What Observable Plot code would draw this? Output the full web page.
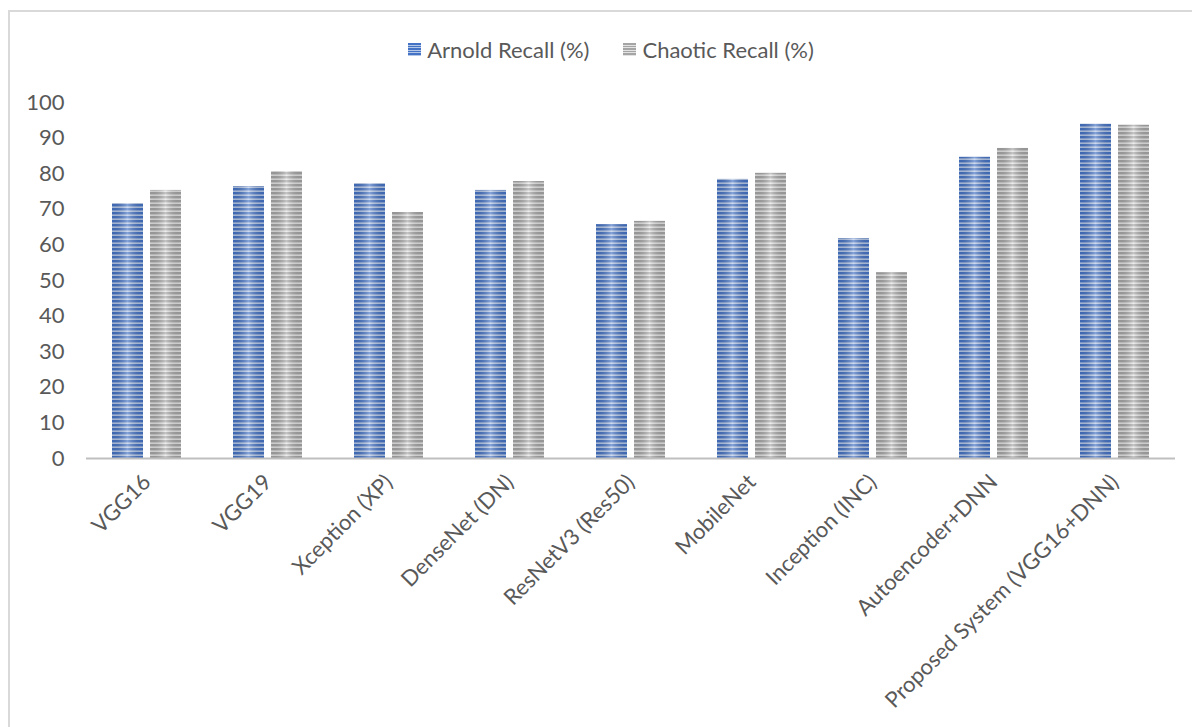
<!DOCTYPE html>
<html>
<head>
<meta charset="utf-8">
<script src="https://cdn.jsdelivr.net/npm/d3@7"></script>
<script src="https://cdn.jsdelivr.net/npm/@observablehq/plot@0.6"></script>
<style>
  html, body { margin: 0; padding: 0; background: #fff; overflow: hidden; }
  body { width: 1192px; height: 727px; position: relative; font-family: Lato, "Open Sans", sans-serif; }
  #frame { position: absolute; left: 8px; top: 10px; width: 1300px; height: 900px; border: 2px solid #d9d9d9; box-sizing: border-box; }
  #legend { position: relative; height: 80px; display: flex; align-items: center; justify-content: center; padding-left: 30px; box-sizing: border-box; padding-top: 19px; font-size: 22px; color: #595959; }
  #legend .item { display: flex; align-items: center; margin: 0; }
  #legend .sw { width: 13px; height: 13px; margin-right: 6px; }
  #chart { position: relative; }
  #chart svg { display: block; }
</style>
</head>
<body>
<div id="frame"></div>
<div id="legend"></div>
<div id="chart"></div>
<script>
const models = ["VGG16", "VGG19", "Xception (XP)", "DenseNet (DN)", "ResNetV3 (Res50)", "MobileNet", "Inception (INC)", "Autoencoder+DNN", "Proposed System (VGG16+DNN)"];
const seriesNames = ["Arnold Recall (%)", "Chaotic Recall (%)"];
const arnold = [71.6, 76.4, 77.2, 75.3, 65.7, 78.4, 61.8, 84.6, 93.9];
const chaotic = [75.3, 80.6, 69.1, 77.8, 66.6, 80.1, 52.2, 87.1, 93.6];
const yTicks = [0, 10, 20, 30, 40, 50, 60, 70, 80, 90, 100];

const dark = ["#4472c4", "#a5a5a5"];
const light = ["#b4c7e7", "#e3e3e3"];

const data = [];
models.forEach((m, i) => {
  data.push({model: m, series: seriesNames[0], value: arnold[i]});
  data.push({model: m, series: seriesNames[1], value: chaotic[i]});
});

// legend
const legend = document.getElementById("legend");
seriesNames.forEach((s, i) => {
  const it = document.createElement("div");
  it.className = "item";
  it.style.marginRight = i === 0 ? "34px" : "0";
  const sw = document.createElement("div");
  sw.className = "sw";
  sw.style.background = `repeating-linear-gradient(to bottom, ${dark[i]} 0px, ${dark[i]} 1.5px, ${light[i]} 1.5px, ${light[i]} 2.5px)`;
  const t = document.createElement("span");
  t.textContent = s;
  it.appendChild(sw); it.appendChild(t);
  legend.appendChild(it);
});

const chart = Plot.plot({
  width: 1192,
  height: 647,
  marginTop: 22,
  marginBottom: 269,
  marginLeft: 86,
  marginRight: 17,
  style: {fontFamily: "Lato, 'Open Sans', sans-serif", fontSize: "22px", color: "#595959", background: "transparent"},
  fx: {domain: models, padding: 0, label: null},
  x: {domain: seriesNames, paddingInner: 0.184, paddingOuter: 0.684, axis: null},
  y: {domain: [0, 100], ticks: yTicks, label: null},
  color: {domain: seriesNames, range: ["url(#patA)", "url(#patC)"]},
  marks: [
    Plot.barY(data, {fx: "model", x: "series", y: "value", fill: "series"}),
    Plot.barY(data, {fx: "model", x: "series", y: "value", fill: "url(#sheen)"}),
    Plot.ruleY([0], {stroke: "#bfbfbf", strokeWidth: 2}),
    Plot.axisY({ticks: yTicks, tickSize: 0, tickPadding: 22, label: null, fontSize: 22, fill: "#595959"}),
    Plot.axisFx({anchor: "bottom", tickRotate: -45, tickSize: 0, tickPadding: 20, label: null, fontSize: 22, fill: "#595959"})
  ]
});

const svg = d3.select(chart);
const defs = svg.insert("defs", ":first-child");
[["patA", 0], ["patC", 1]].forEach(([id, i]) => {
  const p = defs.append("pattern").attr("id", id).attr("patternUnits", "userSpaceOnUse")
    .attr("width", 20).attr("height", 4);
  p.append("rect").attr("width", 20).attr("height", 4).attr("fill", light[i]);
  p.append("rect").attr("width", 20).attr("height", 2.4).attr("fill", dark[i]);
});
const g = defs.append("linearGradient").attr("id", "sheen").attr("x1", 0).attr("x2", 1).attr("y1", 0).attr("y2", 0);
g.append("stop").attr("offset", "0%").attr("stop-color", "#000").attr("stop-opacity", 0.08);
g.append("stop").attr("offset", "50%").attr("stop-color", "#fff").attr("stop-opacity", 0.35);
g.append("stop").attr("offset", "100%").attr("stop-color", "#000").attr("stop-opacity", 0.08);

document.getElementById("chart").appendChild(chart);
</script>
</body>
</html>
